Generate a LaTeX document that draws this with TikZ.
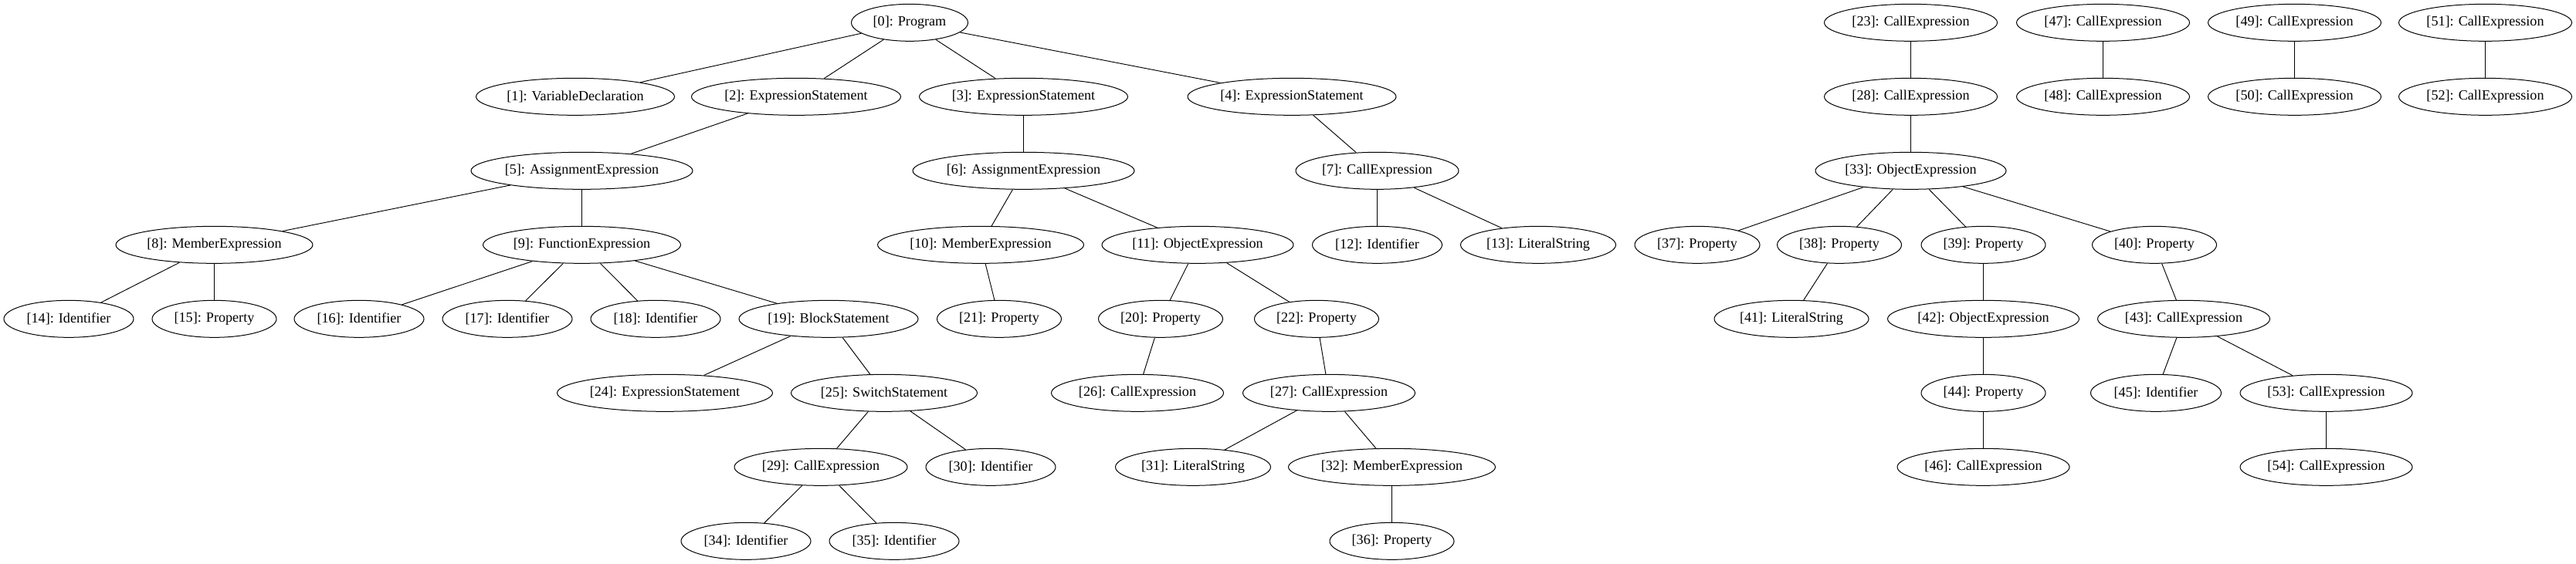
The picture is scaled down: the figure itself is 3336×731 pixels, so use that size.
\documentclass[tikz,border=0pt]{standalone}
\usepackage{fontspec}
\setmainfont{Liberation Serif}
\usetikzlibrary{shapes.geometric}
\tikzset{
  nd/.style={draw, ellipse, line width=0.75pt, inner sep=0pt, minimum height=36pt,
    font=\fontsize{13.6}{16}\selectfont},
  ed/.style={line width=0.7pt}
}
\newcommand{\nd}[5]{\node[nd, minimum width=#4*0.75pt] (n#1) at (#2,{29.33+96*#3}) {[#1]: #5};}
\begin{document}
\begin{tikzpicture}[x=0.75pt,y=-0.75pt]
\useasboundingbox (0,0) rectangle (3336,731);
% row 0
\nd{0}{1178}{0}{151}{Program}
\nd{23}{2474.5}{0}{224}{CallExpression}
\nd{47}{2723.5}{0}{224}{CallExpression}
\nd{49}{2971.5}{0}{224}{CallExpression}
\nd{51}{3218.5}{0}{224}{CallExpression}
% row 1
\nd{1}{745}{1}{257}{VariableDeclaration}
\nd{2}{1031}{1}{271}{ExpressionStatement}
\nd{3}{1325.5}{1}{270}{ExpressionStatement}
\nd{4}{1673}{1}{270}{ExpressionStatement}
\nd{28}{2474.5}{1}{224}{CallExpression}
\nd{48}{2723.5}{1}{224}{CallExpression}
\nd{50}{2971.5}{1}{224}{CallExpression}
\nd{52}{3218.5}{1}{224}{CallExpression}
% row 2
\nd{5}{753.5}{2}{287}{AssignmentExpression}
\nd{6}{1325.5}{2}{287}{AssignmentExpression}
\nd{7}{1783.5}{2}{211}{CallExpression}
\nd{33}{2474.5}{2}{247}{ObjectExpression}
% row 3
\nd{8}{277.5}{3}{255}{MemberExpression}
\nd{9}{753.5}{3}{256}{FunctionExpression}
\nd{10}{1270}{3}{267}{MemberExpression}
\nd{11}{1551}{3}{248}{ObjectExpression}
\nd{12}{1783.5}{3}{168}{Identifier}
\nd{13}{1992}{3}{201}{LiteralString}
\nd{37}{2198}{3}{162}{Property}
\nd{38}{2382}{3}{161}{Property}
\nd{39}{2568.5}{3}{161}{Property}
\nd{40}{2790}{3}{161}{Property}
% row 4
\nd{14}{89}{4}{168}{Identifier}
\nd{15}{277.5}{4}{161}{Property}
\nd{16}{465}{4}{168}{Identifier}
\nd{17}{657}{4}{168}{Identifier}
\nd{18}{849}{4}{168}{Identifier}
\nd{19}{1073}{4}{232}{BlockStatement}
\nd{21}{1294}{4}{161}{Property}
\nd{20}{1503}{4}{161}{Property}
\nd{22}{1705}{4}{161}{Property}
\nd{41}{2320}{4}{200}{LiteralString}
\nd{42}{2568.5}{4}{248}{ObjectExpression}
\nd{43}{2828}{4}{223}{CallExpression}
% row 5
\nd{24}{861}{5}{279}{ExpressionStatement}
\nd{25}{1145}{5}{241}{SwitchStatement}
\nd{26}{1473}{5}{223}{CallExpression}
\nd{27}{1721}{5}{223}{CallExpression}
\nd{44}{2568.5}{5}{161}{Property}
\nd{45}{2792}{5}{169}{Identifier}
\nd{53}{3012.5}{5}{223}{CallExpression}
% row 6
\nd{29}{1063}{6}{224}{CallExpression}
\nd{30}{1283}{6}{168}{Identifier}
\nd{31}{1545}{6}{201}{LiteralString}
\nd{32}{1802.5}{6}{268}{MemberExpression}
\nd{46}{2568.5}{6}{223}{CallExpression}
\nd{54}{3012.5}{6}{223}{CallExpression}
% row 7
\nd{34}{966}{7}{168}{Identifier}
\nd{35}{1158}{7}{168}{Identifier}
\nd{36}{1802.5}{7}{161}{Property}
% edges
\foreach \a/\b in {0/1,0/2,0/3,0/4,2/5,3/6,4/7,5/8,5/9,6/10,6/11,7/12,7/13,
  8/14,8/15,9/16,9/17,9/18,9/19,10/21,11/20,11/22,19/24,19/25,20/26,22/27,
  25/29,25/30,27/31,27/32,29/34,29/35,32/36,23/28,28/33,33/37,33/38,33/39,33/40,
  38/41,39/42,40/43,42/44,44/46,43/45,43/53,53/54,47/48,49/50,51/52}
  \draw[ed] (n\a) -- (n\b);
\end{tikzpicture}
\end{document}
